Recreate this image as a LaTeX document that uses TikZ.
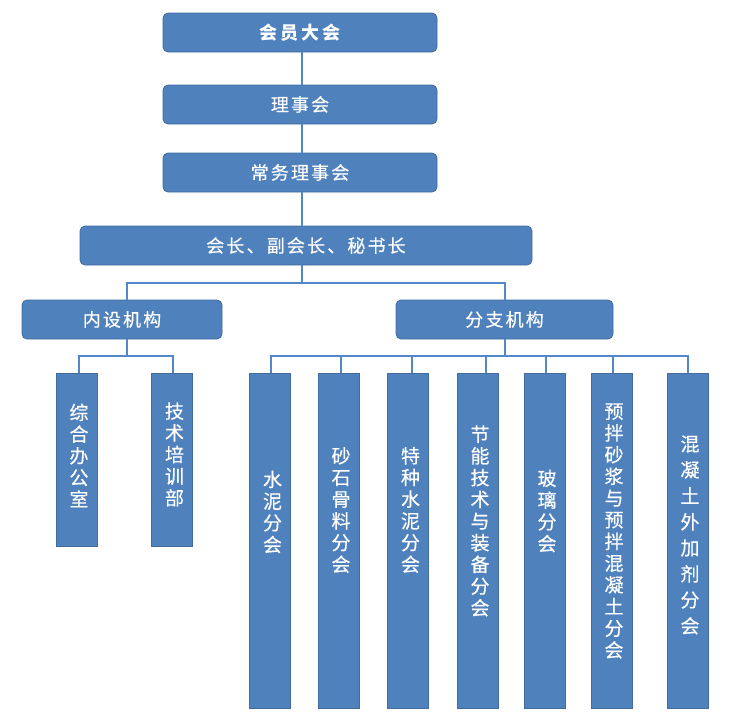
\documentclass[tikz,border=0pt]{standalone}
\usepackage{fontspec}
\usetikzlibrary{calc}
\newfontfamily\cjkh[LetterSpace=12,FakeBold=0.4]{Noto Sans CJK SC}
\newfontfamily\cjkhb[LetterSpace=18]{Noto Sans CJK SC}
\newfontfamily\cjkv[FakeBold=0.4]{Noto Sans CJK SC}
\definecolor{boxblue}{RGB}{79,129,189}
\definecolor{boxedge}{RGB}{65,108,160}
\definecolor{linkblue}{RGB}{82,136,202}
\tikzset{
  hbox/.style={draw=boxedge, fill=boxblue, rounded corners=5pt, line width=0.8pt,
    minimum height=39pt, inner sep=0pt, text=white, font={\cjkh\fontsize{18}{21.7}\selectfont}},
  vbox/.style={draw=boxedge, fill=boxblue, line width=0.8pt, minimum width=41pt, inner sep=0pt},
  vtext/.style={text=white, align=center, inner sep=0pt, font={\cjkv\fontsize{19}{21.7}\selectfont}},
  vtextwide/.style={text=white, align=center, inner sep=0pt, font={\cjkv\fontsize{19}{26}\selectfont}},
  conn/.style={draw=linkblue, line width=2pt}
}
\begin{document}
\begin{tikzpicture}[x=1pt,y=-1pt]
\useasboundingbox (0,0) rectangle (733,721);
% top chain
\node[hbox, minimum width=274pt, font={\cjkhb\bfseries\fontsize{18}{21.7}\selectfont}] (n1) at (300,32.5) {会员大会};
\node[hbox, minimum width=274pt] (n2) at (300,104.5) {理事会};
\node[hbox, minimum width=274pt] (n3) at (300,172.5) {常务理事会};
\node[hbox, minimum width=452pt] (n4) at (306,245.5) {会长、副会长、秘书长};
\node[hbox, minimum width=200pt] (n5) at (122,319.5) {内设机构};
\node[hbox, minimum width=217pt] (n6) at (504.5,319.5) {分支机构};
% left vertical boxes
\node[vbox, minimum height=173pt] (l1) at (76.5,459.5) {};
\node[vbox, minimum height=173pt] (l2) at (171.5,459.5) {};
\node[vtext] (tl1) at (79,455.5) {综\\合\\办\\公\\室};
\node[vtext] (tl2) at (174.5,454.5) {技\\术\\培\\训\\部};
% right vertical boxes
\node[vbox, minimum height=335pt] (r1) at (269.5,540.5) {};
\node[vbox, minimum height=335pt] (r2) at (338.5,540.5) {};
\node[vbox, minimum height=335pt] (r3) at (407.5,540.5) {};
\node[vbox, minimum height=335pt] (r4) at (477.5,540.5) {};
\node[vbox, minimum height=335pt] (r5) at (544.5,540.5) {};
\node[vbox, minimum height=335pt] (r6) at (611.5,540.5) {};
\node[vbox, minimum height=335pt] (r7) at (687.5,540.5) {};
\node[vtext] (tr1) at (272.5,512) {水\\泥\\分\\会};
\node[vtext] (tr2) at (341,510) {砂\\石\\骨\\料\\分\\会};
\node[vtext] (tr3) at (410.5,510) {特\\种\\水\\泥\\分\\会};
\node[vtext] (tr4) at (480,521) {节\\能\\技\\术\\与\\装\\备\\分\\会};
\node[vtext] (tr5) at (547,511) {玻\\璃\\分\\会};
\node[vtext] (tr6) at (614,531) {预\\拌\\砂\\浆\\与\\预\\拌\\混\\凝\\土\\分\\会};
\node[vtextwide] (tr7) at (690,535) {混\\凝\\土\\外\\加\\剂\\分\\会};
% helper coordinates
\coordinate (trunk) at (302,0);
\coordinate (bus1) at (0,283);
\coordinate (bus2) at (0,356);
\coordinate (d5) at (127,0);
\coordinate (d6) at (505,0);
\coordinate (dl1) at (79,0);
\coordinate (dl2) at (173,0);
\coordinate (dr1) at (271,0);
\coordinate (dr2) at (341,0);
\coordinate (dr3) at (412,0);
\coordinate (dr4) at (486,0);
\coordinate (dr5) at (546,0);
\coordinate (dr6) at (613,0);
\coordinate (dr7) at (688,0);
% connectors
\draw[conn] (n1.south -| trunk) -- (n2.north -| trunk);
\draw[conn] (n2.south -| trunk) -- (n3.north -| trunk);
\draw[conn] (n3.south -| trunk) -- (n4.north -| trunk);
\draw[conn] (n4.south -| trunk) -- (bus1 -| trunk);
\draw[conn] (n5.north -| d5) |- (bus1 -| trunk) -| (n6.north -| d6);
\draw[conn] (n5.south -| d5) -- (bus2 -| d5);
\draw[conn] (l1.north -| dl1) |- (bus2 -| dl2) -- (l2.north -| dl2);
\draw[conn] (n6.south -| d6) -- (bus2 -| d6);
\draw[conn] (r1.north -| dr1) |- (bus2 -| dr7) -- (r7.north -| dr7);
\draw[conn] (r2.north -| dr2) -- (bus2 -| dr2);
\draw[conn] (r3.north -| dr3) -- (bus2 -| dr3);
\draw[conn] (r4.north -| dr4) -- (bus2 -| dr4);
\draw[conn] (r5.north -| dr5) -- (bus2 -| dr5);
\draw[conn] (r6.north -| dr6) -- (bus2 -| dr6);
\end{tikzpicture}
\end{document}
